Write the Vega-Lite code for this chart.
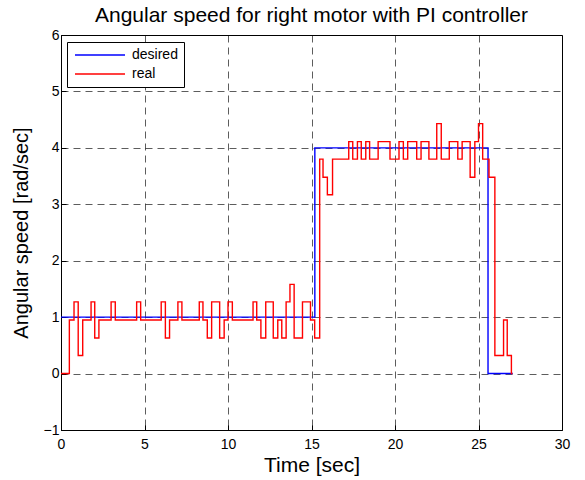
{
  "$schema": "https://vega.github.io/schema/vega-lite/v6.json",
  "width": 501,
  "height": 395,
  "autosize": "none",
  "padding": {"left": 61, "top": 35, "right": 23, "bottom": 50},
  "background": "white",
  "config": {
    "font": "Liberation Sans",
    "view": {"stroke": "black", "strokeWidth": 1},
    "axis": {
      "domainColor": "black",
      "tickColor": "black",
      "labelColor": "black",
      "titleColor": "black",
      "labelFont": "Liberation Sans",
      "titleFont": "Liberation Sans",
      "labelFontSize": 14,
      "titleFontWeight": "normal",
      "gridColor": "black",
      "gridDash": [7, 5],
      "gridWidth": 0.8,
      "gridOpacity": 0.8
    }
  },
  "title": {
    "text": "Angular speed for right motor with PI controller",
    "fontSize": 21,
    "font": "Liberation Sans",
    "fontWeight": "normal",
    "color": "black",
    "anchor": "middle",
    "offset": 2
  },
  "data": {
    "values": [
      {"series": "desired", "t": 0, "v": 1},
      {"series": "desired", "t": 15.2, "v": 4},
      {"series": "desired", "t": 25.57, "v": 0},
      {"series": "desired", "t": 27.05, "v": 0},
      {"series": "real", "t": 0, "v": 0},
      {"series": "real", "t": 0.5, "v": 0.95},
      {"series": "real", "t": 0.78, "v": 1.27},
      {"series": "real", "t": 1.03, "v": 0.32},
      {"series": "real", "t": 1.3, "v": 0.95},
      {"series": "real", "t": 1.8, "v": 1.27},
      {"series": "real", "t": 2.02, "v": 0.63},
      {"series": "real", "t": 2.27, "v": 0.95},
      {"series": "real", "t": 3.0, "v": 1.27},
      {"series": "real", "t": 3.25, "v": 0.95},
      {"series": "real", "t": 4.53, "v": 1.27},
      {"series": "real", "t": 4.77, "v": 0.95},
      {"series": "real", "t": 6.0, "v": 1.27},
      {"series": "real", "t": 6.25, "v": 0.63},
      {"series": "real", "t": 6.5, "v": 0.95},
      {"series": "real", "t": 7.0, "v": 1.27},
      {"series": "real", "t": 7.24, "v": 0.95},
      {"series": "real", "t": 8.28, "v": 1.27},
      {"series": "real", "t": 8.5, "v": 0.95},
      {"series": "real", "t": 8.76, "v": 0.63},
      {"series": "real", "t": 9.02, "v": 1.27},
      {"series": "real", "t": 9.5, "v": 0.63},
      {"series": "real", "t": 9.77, "v": 0.95},
      {"series": "real", "t": 10.0, "v": 1.27},
      {"series": "real", "t": 10.26, "v": 0.95},
      {"series": "real", "t": 11.5, "v": 1.27},
      {"series": "real", "t": 11.72, "v": 0.95},
      {"series": "real", "t": 11.97, "v": 0.63},
      {"series": "real", "t": 12.26, "v": 1.27},
      {"series": "real", "t": 12.71, "v": 0.63},
      {"series": "real", "t": 12.98, "v": 0.95},
      {"series": "real", "t": 13.22, "v": 0.63},
      {"series": "real", "t": 13.48, "v": 1.27},
      {"series": "real", "t": 13.71, "v": 1.58},
      {"series": "real", "t": 13.96, "v": 0.63},
      {"series": "real", "t": 14.46, "v": 1.27},
      {"series": "real", "t": 14.94, "v": 0.95},
      {"series": "real", "t": 15.19, "v": 0.63},
      {"series": "real", "t": 15.49, "v": 3.8},
      {"series": "real", "t": 15.69, "v": 3.48},
      {"series": "real", "t": 15.95, "v": 3.17},
      {"series": "real", "t": 16.26, "v": 3.8},
      {"series": "real", "t": 17.23, "v": 4.11},
      {"series": "real", "t": 17.47, "v": 3.8},
      {"series": "real", "t": 17.75, "v": 4.11},
      {"series": "real", "t": 17.98, "v": 3.8},
      {"series": "real", "t": 18.25, "v": 4.11},
      {"series": "real", "t": 18.48, "v": 3.8},
      {"series": "real", "t": 18.99, "v": 4.11},
      {"series": "real", "t": 19.7, "v": 3.8},
      {"series": "real", "t": 20.24, "v": 4.11},
      {"series": "real", "t": 20.5, "v": 3.8},
      {"series": "real", "t": 20.76, "v": 4.11},
      {"series": "real", "t": 21.3, "v": 3.8},
      {"series": "real", "t": 21.56, "v": 4.11},
      {"series": "real", "t": 22.03, "v": 3.8},
      {"series": "real", "t": 22.5, "v": 4.43},
      {"series": "real", "t": 22.77, "v": 3.8},
      {"series": "real", "t": 23.25, "v": 4.11},
      {"series": "real", "t": 23.76, "v": 3.8},
      {"series": "real", "t": 24.02, "v": 4.11},
      {"series": "real", "t": 24.5, "v": 3.48},
      {"series": "real", "t": 24.78, "v": 4.11},
      {"series": "real", "t": 25.0, "v": 4.43},
      {"series": "real", "t": 25.25, "v": 3.8},
      {"series": "real", "t": 25.63, "v": 3.48},
      {"series": "real", "t": 25.98, "v": 0.32},
      {"series": "real", "t": 26.5, "v": 0.95},
      {"series": "real", "t": 26.72, "v": 0.32},
      {"series": "real", "t": 26.97, "v": 0},
      {"series": "real", "t": 27.03, "v": 0}
    ]
  },
  "mark": {"type": "line", "interpolate": "step-after", "strokeWidth": 1.4},
  "encoding": {
    "x": {
      "field": "t",
      "type": "quantitative",
      "scale": {"domain": [0, 30], "nice": false, "zero": false},
      "axis": {
        "values": [0, 5, 10, 15, 20, 25, 30],
        "title": "Time [sec]",
        "titleFontSize": 21,
        "grid": true,
        "tickSize": -5,
        "labelPadding": 12,
        "titlePadding": 3,
        "labelFlush": false
      }
    },
    "y": {
      "field": "v",
      "type": "quantitative",
      "scale": {"domain": [-1, 6], "nice": false, "zero": false},
      "axis": {
        "values": [-1, 0, 1, 2, 3, 4, 5, 6],
        "title": "Angular speed [rad/sec]",
        "titleFontSize": 20,
        "grid": true,
        "tickSize": -5,
        "labelPadding": 7,
        "titlePadding": 12,
        "labelFlush": false
      }
    },
    "color": {
      "field": "series",
      "type": "nominal",
      "scale": {"domain": ["desired", "real"], "range": ["#0000ff", "#ff0000"]},
      "legend": {
        "title": null,
        "orient": "none",
        "legendX": 6,
        "legendY": 7,
        "symbolType": "M-1,0H9",
        "symbolSize": 100,
        "symbolStrokeWidth": 1.4,
        "labelFontSize": 14,
        "labelFont": "Liberation Sans",
        "labelColor": "black",
        "labelOffset": 45,
        "padding": 6,
        "rowPadding": 5,
        "strokeColor": "black",
        "fillColor": "white",
        "cornerRadius": 0
      }
    }
  }
}
